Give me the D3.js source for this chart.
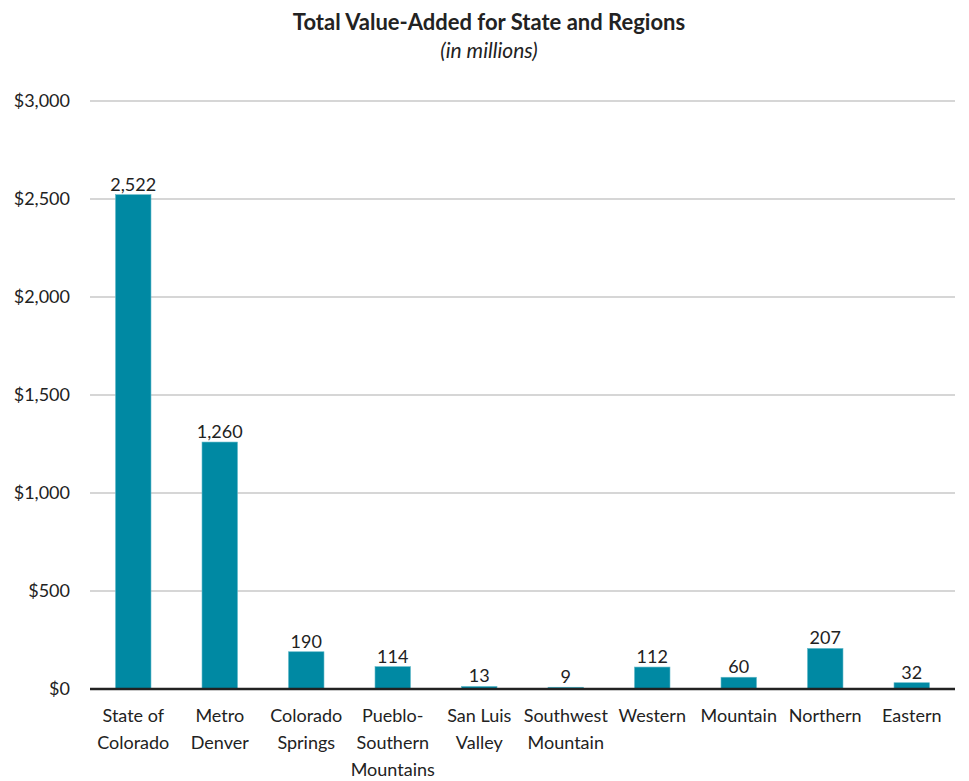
<!DOCTYPE html>
<html>
<head>
<meta charset="utf-8">
<script src="https://cdn.jsdelivr.net/npm/d3@7"></script>
<style>
  body { margin: 0; background: #fff; }
  text { font-family: Lato, "Open Sans", sans-serif; fill: #222; }
</style>
</head>
<body>
<svg id="chart" width="969" height="781"></svg>
<script>
const regions = [
  ["State of", "Colorado"],
  ["Metro", "Denver"],
  ["Colorado", "Springs"],
  ["Pueblo-", "Southern", "Mountains"],
  ["San Luis", "Valley"],
  ["Southwest", "Mountain"],
  ["Western"],
  ["Mountain"],
  ["Northern"],
  ["Eastern"]
];
const values = [2522, 1260, 190, 114, 13, 9, 112, 60, 207, 32];
const yTicks = [0, 500, 1000, 1500, 2000, 2500, 3000];

const svg = d3.select("#chart");
const margin = { top: 101, right: 14, bottom: 92, left: 90 };
const width = +svg.attr("width");
const height = +svg.attr("height");

const keys = regions.map((d, i) => i);

const x = d3.scaleBand()
  .domain(keys)
  .range([margin.left, width - margin.right])
  .paddingInner(0.59)
  .paddingOuter(0.295);

const y = d3.scaleLinear()
  .domain([0, 3000])
  .range([height - margin.bottom, margin.top]);

// title
svg.append("text")
  .attr("x", 489).attr("y", 30)
  .attr("text-anchor", "middle")
  .attr("font-size", "22px")
  .attr("font-weight", "bold")
  .text("Total Value-Added for State and Regions");

svg.append("text")
  .attr("x", 489).attr("y", 58)
  .attr("text-anchor", "middle")
  .attr("font-size", "21px")
  .attr("font-style", "italic")
  .text("(in millions)");

// gridlines
svg.append("g")
  .selectAll("line")
  .data(yTicks.slice(1))
  .join("line")
  .attr("x1", margin.left)
  .attr("x2", width - margin.right)
  .attr("y1", d => y(d))
  .attr("y2", d => y(d))
  .attr("stroke", "#c8c8c8")
  .attr("stroke-width", 1.3);

// y labels
svg.append("g")
  .selectAll("text")
  .data(yTicks)
  .join("text")
  .attr("x", 70)
  .attr("y", d => y(d))
  .attr("dy", "0.35em")
  .attr("text-anchor", "end")
  .attr("font-size", "18px")
  .attr("fill", "#333")
  .text(d => "$" + d3.format(",")(d));

// bars
svg.append("g")
  .selectAll("rect")
  .data(values)
  .join("rect")
  .attr("x", (d, i) => x(i))
  .attr("width", x.bandwidth())
  .attr("y", d => y(d))
  .attr("height", d => y(0) - y(d))
  .attr("fill", "#0089a3")
  .attr("stroke", "#5fb8c8")
  .attr("stroke-width", 0.6);

// value labels
svg.append("g")
  .selectAll("text")
  .data(values)
  .join("text")
  .attr("x", (d, i) => x(i) + x.bandwidth() / 2)
  .attr("y", d => y(d) - 4)
  .attr("text-anchor", "middle")
  .attr("font-size", "18px")
  .attr("fill", "#333")
  .text(d => d3.format(",")(d));

// baseline
svg.append("line")
  .attr("x1", margin.left)
  .attr("x2", width - margin.right)
  .attr("y1", y(0))
  .attr("y2", y(0))
  .attr("stroke", "#222")
  .attr("stroke-width", 2.5);

// category labels
const cat = svg.append("g")
  .selectAll("text")
  .data(regions)
  .join("text")
  .attr("text-anchor", "middle")
  .attr("font-size", "18px")
  .attr("fill", "#333")
  .attr("transform", (d, i) => `translate(${x(i) + x.bandwidth() / 2},${y(0) + 33})`);

cat.selectAll("tspan")
  .data(d => d)
  .join("tspan")
  .attr("x", 0)
  .attr("y", (d, j) => j * 27)
  .text(d => d);
</script>
</body>
</html>
